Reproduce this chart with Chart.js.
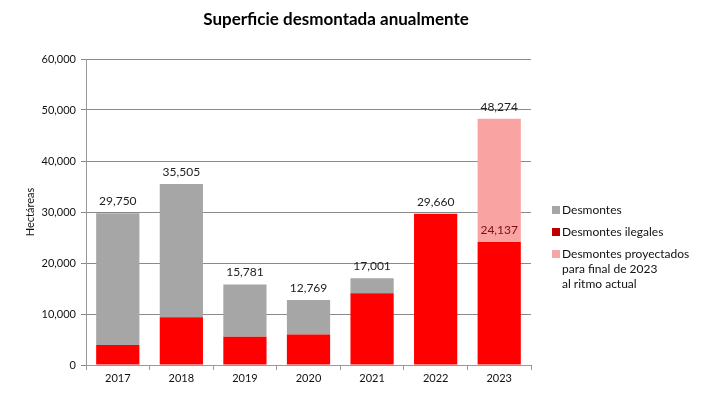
<!DOCTYPE html>
<html>
<head>
<meta charset="utf-8">
<script src="https://cdn.jsdelivr.net/npm/chart.js@4/dist/chart.umd.min.js"></script>
<style>
  html, body { margin: 0; padding: 0; background: #fff; }
  #wrap { width: 703px; height: 395px; position: relative; }
</style>
</head>
<body>
<div id="wrap"><canvas id="chart"></canvas></div>
<script>
// data
let years = ["2017", "2018", "2019", "2020", "2021", "2022", "2023"];
let totals = [29750, 35505, 15781, 12769, 17001, 29660, 24137];
let illegal = [3900, 9350, 5550, 6000, 14060, 29660, 24137];
let projected = [0, 0, 0, 0, 0, 0, 24137];
let projectedTotal = 48274;
let yTicks = [0, 10000, 20000, 30000, 40000, 50000, 60000];

let legal = totals.map((t, i) => t - illegal[i]);

let FONT = "Lato, 'Open Sans', sans-serif";

function fmt(n) {
    return n.toLocaleString("en-US");
}

// title, data labels and the legend on the right
let extras = {
    id: "extras",
    afterDatasetsDraw(chart) {
        let ctx = chart.ctx;
        ctx.save();

        ctx.fillStyle = "#000";
        ctx.font = "bold 17px " + FONT;
        ctx.textAlign = "center";
        ctx.textBaseline = "middle";
        ctx.fillText("Superficie desmontada anualmente", 336, 20);

        let redMeta = chart.getDatasetMeta(0);
        let grayMeta = chart.getDatasetMeta(1);
        let pinkMeta = chart.getDatasetMeta(2);
        ctx.font = "12px " + FONT;
        ctx.textBaseline = "bottom";
        years.forEach((y, i) => {
            let el;
            let text;
            if (projected[i] > 0) {
                el = pinkMeta.data[i];
                text = fmt(projectedTotal);
            } else if (legal[i] > 0) {
                el = grayMeta.data[i];
                text = fmt(totals[i]);
            } else {
                el = redMeta.data[i];
                text = fmt(totals[i]);
            }
            ctx.fillStyle = "#222";
            ctx.fillText(text, el.x, el.y - 6);
            if (projected[i] > 0) {
                let r = redMeta.data[i];
                ctx.fillStyle = "#7a1010";
                ctx.fillText(fmt(illegal[i]), r.x, r.y - 6);
            }
        });

        let items = [
            { color: "#a6a6a6", lines: ["Desmontes"] },
            { color: "#c00000", lines: ["Desmontes ilegales"] },
            { color: "#f4a6a6", lines: ["Desmontes proyectados", "para final de 2023", "al ritmo actual"] }
        ];
        let ly = 210;
        ctx.font = "12px " + FONT;
        ctx.textAlign = "left";
        ctx.textBaseline = "middle";
        items.forEach(it => {
            ctx.fillStyle = it.color;
            ctx.fillRect(552, ly - 4, 8, 8);
            ctx.fillStyle = "#111";
            it.lines.forEach((l, k) => ctx.fillText(l, 562, ly + k * 15));
            ly += 22;
        });

        ctx.restore();
    }
};

new Chart(document.getElementById("chart"), {
    type: "bar",
    data: {
        labels: years,
        datasets: [
            { label: "Desmontes ilegales", data: illegal, backgroundColor: "#ff0000", stack: "s" },
            { label: "Desmontes", data: legal, backgroundColor: "#a6a6a6", stack: "s" },
            { label: "Desmontes proyectados", data: projected, backgroundColor: "#f9a3a3", stack: "s" }
        ]
    },
    options: {
        responsive: true,
        maintainAspectRatio: false,
        animation: false,
        barPercentage: 0.68,
        categoryPercentage: 1,
        layout: { padding: { left: 0, right: 172, top: 59, bottom: 0 } },
        plugins: {
            legend: { display: false },
            tooltip: { enabled: false }
        },
        scales: {
            x: {
                stacked: true,
                grid: { display: true, drawOnChartArea: false, offset: true, color: "#999", tickLength: 5 },
                border: { color: "#999" },
                ticks: { color: "#111", font: { family: FONT, size: 11 }, padding: 2 },
                afterFit(s) { s.height = 30; }
            },
            y: {
                stacked: true,
                min: 0,
                max: 60000,
                afterBuildTicks(s) { s.ticks = yTicks.map(v => ({ value: v })); },
                grid: { color: "#8a8a8a", tickLength: 5 },
                border: { color: "#999" },
                ticks: {
                    color: "#111",
                    font: { family: FONT, size: 11 },
                    padding: 5,
                    callback: v => fmt(v)
                },
                title: {
                    display: true,
                    text: "Hectáreas",
                    color: "#111",
                    font: { family: FONT, size: 11 },
                    padding: { top: 24, bottom: 0 }
                },
                afterFit(s) { s.width = 86; }
            }
        }
    },
    plugins: [extras]
});
</script>
</body>
</html>
